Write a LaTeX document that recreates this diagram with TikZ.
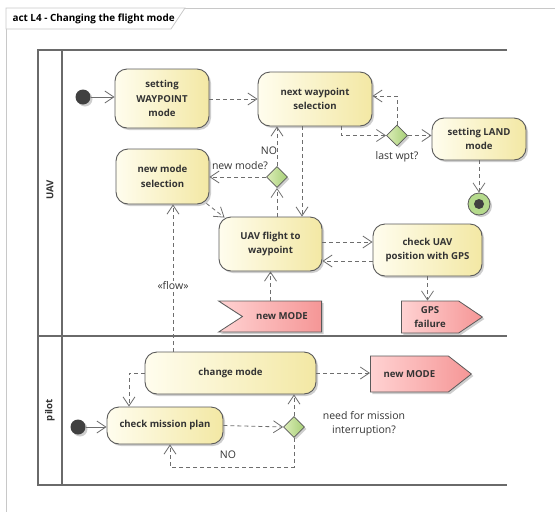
\documentclass[tikz,border=0pt]{standalone}
\usepackage{fontspec}
\setmainfont{Open Sans}
\usetikzlibrary{arrows.meta,shapes.geometric,shapes.symbols,shadows,calc}
\definecolor{actL}{HTML}{FFFDEE}
\definecolor{actR}{HTML}{F3E8A4}
\definecolor{sigL}{HTML}{FFD2D2}
\definecolor{sigR}{HTML}{F59696}
\definecolor{decL}{HTML}{DCEDB8}
\definecolor{decR}{HTML}{A6CE76}
\definecolor{edgeC}{HTML}{6E6E6E}
\definecolor{borderC}{HTML}{5A5A5A}
\definecolor{laneC}{HTML}{6A6A6A}
\definecolor{frameC}{HTML}{C8C8C8}
\definecolor{txtC}{HTML}{333333}
\definecolor{finC}{HTML}{B5DA8C}
\begin{document}
\begin{tikzpicture}[x=1pt,y=-1pt,
  shd/.style={drop shadow={shadow xshift=2pt,shadow yshift=-2pt,fill=black!35,opacity=.55}},
  act/.style={draw=borderC,line width=0.9pt,rounded corners=12pt,left color=actL,right color=actR,
     shd,align=center,inner sep=2pt,text=txtC,font=\bfseries\fontsize{9.6}{14.5}\selectfont},
  sendsig/.style={signal,signal to=east,signal from=nowhere,draw=borderC,line width=0.8pt,
     left color=sigL,right color=sigR,shd,align=center,inner sep=2pt,text=txtC,
     font=\bfseries\fontsize{9.6}{14.5}\selectfont},
  accsig/.style={signal,signal to=nowhere,signal from=west,draw=borderC,line width=0.8pt,
     left color=sigL,right color=sigR,shd,align=center,inner sep=2pt,text=txtC,
     font=\bfseries\fontsize{9.6}{14.5}\selectfont},
  dec/.style={diamond,draw=borderC,line width=0.8pt,left color=decL,right color=decR,
     minimum width=21pt,minimum height=21pt,inner sep=0pt,shd},
  initn/.style={circle,fill=black!75,minimum size=15pt,inner sep=0pt,shd},
  flow/.style={draw=edgeC,line width=0.8pt,dash pattern=on 4pt off 3pt,
     -{Straight Barb[length=9pt,width=12pt]}},
  sflow/.style={draw=edgeC,line width=0.8pt,-{Straight Barb[length=9pt,width=12pt]}},
  lbl/.style={text=txtC,font=\fontsize{10.5}{14.5}\selectfont,align=center,inner sep=1pt},
  lane/.style={draw=laneC,line width=1.4pt}
]
\useasboundingbox (0,0) rectangle (555,512);
% outer frame
\draw[frameC,line width=1pt] (6,512) -- (6,8) -- (555,8);
\draw[frameC,line width=0.8pt,fill=white] (6,8) -- (185,8) -- (171,29) -- (6,29) -- cycle;
\node[anchor=west,text=black,font=\bfseries\fontsize{9.9}{12}\selectfont] (title) at (9,18.5) {act L4 - Changing the flight mode};
% swimlanes
\draw[lane] (507,50) -- (38,50) -- (38,485) -- (507,485);
\draw[lane] (62,50) -- (62,485);
\draw[lane] (38,336) -- (507,336);
\node[rotate=90,text=txtC,font=\bfseries\fontsize{9.6}{12}\selectfont] (laneU) at (50,190) {UAV};
\node[rotate=90,text=txtC,font=\bfseries\fontsize{9.6}{12}\selectfont] (laneP) at (50,410) {pilot};

% UAV lane nodes
\node[initn] (ini1) at (83,97) {};
\node[act,minimum width=94pt,minimum height=59pt] (swp) at (162,98.5) {setting\\WAYPOINT\\mode};
\node[act,minimum width=114pt,minimum height=54pt] (nws) at (315,99) {next waypoint\\selection};
\node[dec] (d1) at (397,135.5) {};
\node[act,minimum width=94pt,minimum height=42pt] (land) at (479,139) {setting LAND\\mode};
\node[circle,draw=borderC,line width=0.8pt,fill=finC,minimum size=22pt,inner sep=0pt,shd] (fin) at (479,204) {};
\node[circle,fill=black!75,minimum size=10pt,inner sep=0pt] (finc) at (fin) {};
\node[act,minimum width=93pt,minimum height=55pt] (nms) at (162.5,176.5) {new mode\\selection};
\node[dec] (d2) at (277,177) {};
\node[act,minimum width=103pt,minimum height=54pt] (uav) at (270.5,244) {UAV flight to\\waypoint};
\node[accsig,minimum width=103pt,minimum height=31pt,signal pointer angle=66,anchor=east] (nm1) at (322,316.5) {new MODE};
\node[act,minimum width=109pt,minimum height=52pt] (chk) at (427.5,250) {check UAV\\position with GPS};
\node[sendsig,minimum width=81pt,minimum height=32pt,signal pointer angle=68,anchor=west] (gps) at (401,317) {GPS\\failure};

% pilot lane nodes
\node[act,minimum width=171pt,minimum height=42pt] (chg) at (230.5,373) {change mode};
\node[act,minimum width=116pt,minimum height=37pt] (cmp) at (165,425.5) {check mission plan};
\node[initn] (ini2) at (78,427) {};
\node[dec] (d3) at (294,427) {};
\node[sendsig,minimum width=101pt,minimum height=36pt,signal pointer angle=76,anchor=west] (nm2) at (370,374) {new MODE};

% labels
\node[lbl] (l1) at (397,157) {last wpt?};
\node[lbl] (l2) at (240,166) {new mode?};
\node[lbl] (l3) at (269,151) {NO};
\node[lbl] (l5) at (364,423.5) {need for mission\\interruption?};
\node[lbl] (l6) at (228,455) {NO};

% connectors UAV
\draw[sflow] (ini1) -- (swp.west |- ini1);
\draw[flow] (swp.east |- nws.west) -- (nws.west);
\coordinate (a1) at ([xshift=26pt]nws.south);
\draw[flow] (a1) |- (d1.west);
\draw[flow] (d1.east) -- (land.west |- d1.east);
\coordinate (a2) at ([yshift=3pt]nws.east);
\draw[flow] (d1.north) |- (a2);
\draw[flow] (land.south) -- (fin.north);
\coordinate (a3) at ([xshift=-13pt]nws.south);
\draw[flow] (a3) -- (a3 |- uav.north);
\coordinate (a4) at ([xshift=6.5pt]uav.north);
\draw[flow] (a4) -- (d2.south);
\draw[flow] (d2.north) -- (d2.north |- nws.south);
\draw[flow] (d2.west) -- (d2.west -| nms.east);
\coordinate (a5) at ([xshift=-3pt,yshift=1pt]nms.south east);
\coordinate (a6) at ([xshift=6pt,yshift=-1pt]uav.north west);
\draw[flow] (a5) -- (a6);
\coordinate (a7) at ([yshift=8pt]chk.west);
\draw[flow] (a7 -| uav.east) -- (a7);
\coordinate (a8) at ([yshift=-11pt]chk.west);
\draw[flow] (a8) -- (a8 -| uav.east);
\draw[flow] (chk.south) -- (chk.south |- gps.north);
\draw[flow] (uav.south |- nm1.north) -- (uav.south);

% connectors pilot
\coordinate (a9) at ([xshift=10.5pt]nms.south);
\draw[flow] (a9 |- chg.north) -- node[pos=0.45,lbl,fill=white,inner sep=0.5pt] (l4) {«flow»} (a9);
\coordinate (a10) at ([xshift=-36pt]cmp.north);
\draw[flow] (chg.west) -| (a10);
\draw[flow] (cmp.east) -- (d3.west);
\draw[flow] (d3.north) -- (d3.north |- chg.south);
\coordinate (a11) at ([xshift=5pt]cmp.south);
\draw[flow] (d3.south) -- ++(0,29) -| (a11);
\draw[flow] (chg.east) -- (nm2.west |- chg.east);
\draw[sflow] (ini2) -- (cmp.west |- ini2);
\end{tikzpicture}
\end{document}
